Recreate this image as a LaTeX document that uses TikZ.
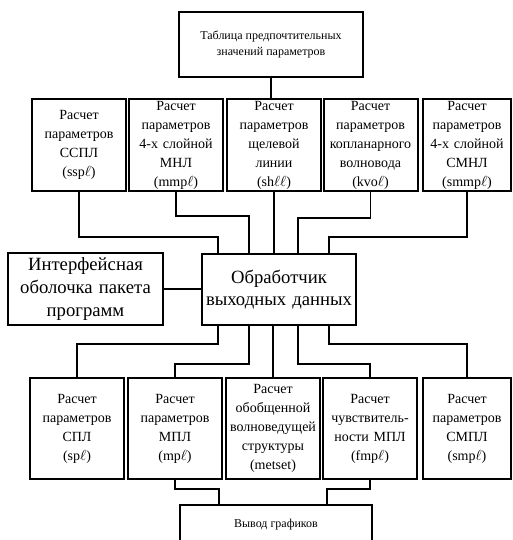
\documentclass[tikz,border=0pt]{standalone}
\usepackage{fontspec}
\setmainfont{Liberation Serif}
\usetikzlibrary{calc}

\begin{document}
\begin{tikzpicture}[x=0.75pt,y=0.75pt,yscale=-1,xscale=1,
  calcbox/.style={draw,line width=1.5pt,minimum width=70.5pt,minimum height=69pt,text width=67pt,inner sep=0.5pt,align=center,font=\fontsize{10.5}{14.25}\selectfont},
  lowbox/.style={calcbox,minimum height=75.75pt},
  bigbox/.style={draw,line width=1.5pt,minimum width=115.5pt,minimum height=53.25pt,text width=114pt,inner sep=0.5pt,align=center,font=\fontsize{14}{17}\selectfont},
  smallbox/.style={draw,line width=1.5pt,align=center,inner sep=0.5pt,font=\fontsize{9}{12}\selectfont},
  wire/.style={line width=1.2pt}]
\useasboundingbox (0,0) rectangle (513,540);

%Shape: Rectangle (table)
\node [smallbox,minimum width=138pt,minimum height=48.75pt] (tab) at (271,44.5) {Таблица предпочтительных\\значений параметров};

%Shape: Rectangle (upper row)
\node [calcbox] (up1) at (79,145) {Расчет\\параметров\\ССПЛ\\(ssp$\ell$)};
\node [calcbox] (up2) at (176,145) {Расчет\\параметров\\4-х слойной\\МНЛ\\(mmp$\ell$)};
\node [calcbox] (up3) at (274,145) {Расчет\\параметров\\щелевой\\линии\\(sh$\ell\ell$)};
\node [calcbox] (up4) at (370.5,145) {Расчет\\параметров\\копланарного\\волновода\\(kvo$\ell$)};
\node [calcbox,minimum width=66pt,text width=64pt] (up5) at (467,145) {Расчет\\параметров\\4-х слойной\\СМНЛ\\(smmp$\ell$)};

%Shape: Rectangle (middle)
\node [bigbox,minimum width=116.25pt,minimum height=54pt] (iface) at (85.5,289) {Интерфейсная\\оболочка пакета\\программ};
\node [bigbox] (hub) at (279,289.5) {Обработчик\\выходных данных};

%Shape: Rectangle (lower row)
\node [lowbox] (lo1) at (77,428.5) {Расчет\\параметров\\СПЛ\\(sp$\ell$)};
\node [lowbox] (lo2) at (175,428.5) {Расчет\\параметров\\МПЛ\\(mp$\ell$)};
\node [lowbox] (lo3) at (273,428.5) {Расчет\\обобщенной\\волноведущей\\структуры\\(metset)};
\node [lowbox] (lo4) at (370,428.5) {Расчет\\чувствитель-\\ности МПЛ\\(fmp$\ell$)};
\node [lowbox,minimum width=66pt,text width=64pt] (lo5) at (467,428.5) {Расчет\\параметров\\СМПЛ\\(smp$\ell$)};

%Shape: Rectangle (plots)
\node [smallbox,minimum width=144pt,minimum height=30pt] (plot) at (276,525) {Вывод графиков};

%Straight Lines (into the handler)
\draw [wire] (tab.south) -- (tab.south |- up3.north);
\draw [wire] (up1.south) -- ++(0,45) -| ($(hub.north)+(-61,0)$);
\draw [wire] (up2.south) -- ++(0,24) -| ($(hub.north)+(-30,0)$);
\draw [wire] (up3.south) -- (up3.south |- hub.north);
\draw [wire] (up4.south) -- ++(0,26) -| ($(hub.north)+(19,0)$);
\draw [wire] (up5.south) -- ++(0,45) -| ($(hub.north)+(50,0)$);
\draw [wire] (iface.east) -- (iface.east -| hub.west);

%Straight Lines (out of the handler)
\draw [wire] ($(hub.south)+(-61,0)$) -- ++(0,18) -| (lo1.north);
\draw [wire] ($(hub.south)+(-30,0)$) -- ++(0,38) -| (lo2.north);
\draw [wire] (lo3.north |- hub.south) -- (lo3.north);
\draw [wire] ($(hub.south)+(19,0)$) -- ++(0,38) -| (lo4.north);
\draw [wire] ($(hub.south)+(50,0)$) -- ++(0,18) -| (lo5.north);

%Straight Lines (to the plots)
\draw [wire] (lo2.south) -- ++(0,9) -| ($(plot.north)+(-57,0)$);
\draw [wire] (lo4.south) -- ++(0,9) -| ($(plot.north)+(51,0)$);

\end{tikzpicture}
\end{document}
